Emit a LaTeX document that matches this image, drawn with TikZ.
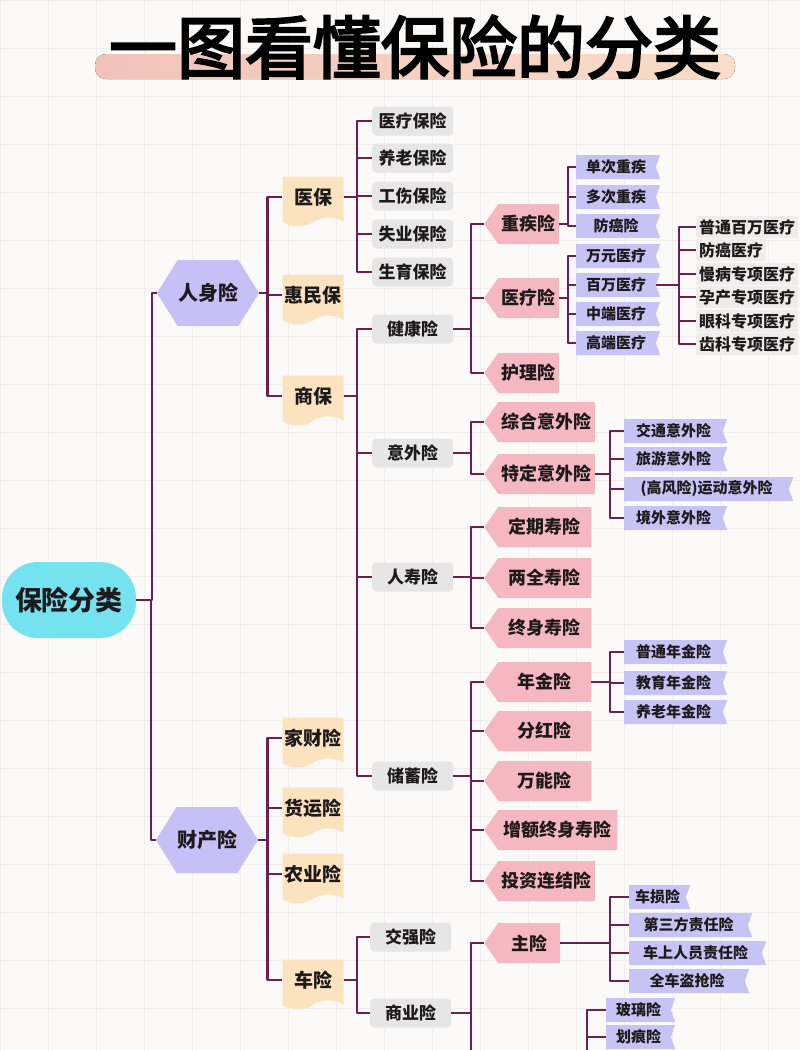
\documentclass[tikz,border=0pt]{standalone}
\usepackage{fontspec}
\setmainfont{Noto Sans CJK SC}
\newfontfamily\titulofonte{Noto Sans CJK SC}[FakeBold=3.5]
\usepackage{tikz}
\usetikzlibrary{shapes.symbols}

\definecolor{fundo}{HTML}{FBFAF8}
\definecolor{grade}{HTML}{F0EDEC}
\definecolor{linha}{HTML}{6B2150}
\definecolor{ciano}{HTML}{74E2EF}
\definecolor{lilas}{HTML}{C6C0F6}
\definecolor{bege}{HTML}{FBE3BF}
\definecolor{cinza}{HTML}{E7E6E6}
\definecolor{rosa}{HTML}{F6B8C0}
\definecolor{roxo}{HTML}{C8C3F5}
\definecolor{cinzaclaro}{HTML}{EEEDEC}
\definecolor{texto}{HTML}{1E1A1C}
\definecolor{faixaA}{HTML}{F2C2BA}
\definecolor{faixaB}{HTML}{F9DDC8}

\newcommand{\tam}[1]{\fontsize{#1}{#1}\selectfont}
% liga o pai a cada filho passando por uma barra vertical
\newcommand{\conecta}[3]{%
  \foreach \f in {#3}
    \draw[liga] (#1.east) -| ([xshift=-#2pt]\f.west) -- (\f.west);}

\begin{document}
\begin{tikzpicture}[
        x=1pt, y=-1pt,
        every node/.style={text=texto},
        liga/.style={draw=linha, line width=2.5pt, line join=round},
        raiz/.style={rectangle, rounded corners=36pt, fill=ciano, minimum width=134pt, minimum height=76pt, font=\tam{27}\bfseries},
        ramo/.style={signal, signal to=west and east, signal pointer angle=116, fill=lilas, minimum width=102pt, minimum height=66pt, inner sep=0pt, font=\tam{20}\bfseries},
        fita/.style={tape, tape bend top=none, tape bend bottom=in and out, tape bend height=9pt, fill=bege, minimum width=61pt, minimum height=50pt, inner sep=0pt, font=\tam{19}\bfseries},
        caixa/.style={rectangle, rounded corners=4pt, fill=cinza, minimum width=81pt, minimum height=29pt, anchor=west, font=\tam{17}\bfseries},
        seta/.style={signal, signal to=west, signal from=nowhere, signal pointer angle=110, fill=rosa, minimum width=67pt, minimum height=40pt, anchor=west, font=\tam{18}\bfseries},
        bandeira/.style={signal, signal to=nowhere, signal from=east, signal pointer angle=140, fill=roxo, minimum width=84pt, minimum height=24pt, anchor=west, font=\tam{15}\bfseries},
        folha/.style={rectangle, rounded corners=2pt, fill=cinzaclaro, minimum height=20pt, inner xsep=3pt, anchor=west, font=\tam{16}\bfseries}
    ]

        \useasboundingbox (0,0) rectangle (800,1050);
        \clip (0,0) rectangle (800,1050);
        \fill[fundo] (0,0) rectangle (800,1050);
        \draw[grade, line width=0.6pt, step=48pt] (0,0) grid (800,1050);

        % ==================================================
        % TÍTULO
        % ==================================================

        \fill[left color=faixaA, right color=faixaB, rounded corners=11pt] (95,54) rectangle (735,79);
        \node[font=\titulofonte\tam{68}, text=black] (titulo) at (415,47) {一图看懂保险的分类};

        % ==================================================
        % NÓS
        % ==================================================

        \node[raiz] (raiz) at (69,600) {保险分类};

        % Nível 1
        \node[ramo] (rs) at (208,293) {人身险};
        \node[ramo] (cc) at (207,840) {财产险};

        % Nível 2
        \node[fita] (yb)  at (313,197) {医保};
        \node[fita] (hmb) at (313,295) {惠民保};
        \node[fita] (sb)  at (313,396) {商保};
        \node[fita] (jc)  at (313,738) {家财险};
        \node[fita] (hy)  at (313,808) {货运险};
        \node[fita] (ny)  at (313,874) {农业险};
        \node[fita] (cx)  at (313,980) {车险};

        % Nível 3
        \node[caixa] (ylbx) at (372,121) {医疗保险};
        \node[caixa] (ylao) at (372,158) {养老保险};
        \node[caixa] (gs)   at (372,196) {工伤保险};
        \node[caixa] (sy)   at (372,234) {失业保险};
        \node[caixa] (syu)  at (372,272) {生育保险};
        \node[caixa] (jk)   at (372,329) {健康险};
        \node[caixa] (yw)   at (372,453) {意外险};
        \node[caixa] (rsx)  at (372,577) {人寿险};
        \node[caixa] (cxu)  at (372,776) {储蓄险};
        \node[caixa] (jq)   at (370,937) {交强险};
        \node[caixa] (syx)  at (370,1013) {商业险};

        % Nível 4
        \node[seta] (zj) at (484,224) {重疾险};
        \node[seta] (yl) at (484,298) {医疗险};
        \node[seta] (hl) at (484,373) {护理险};
        \node[seta, minimum width=107pt] (zh) at (484,422) {综合意外险};
        \node[seta, minimum width=107pt] (td) at (484,474) {特定意外险};
        \node[seta, minimum width=107pt] (dq) at (484,527) {定期寿险};
        \node[seta, minimum width=107pt] (lq) at (484,578) {两全寿险};
        \node[seta, minimum width=107pt] (zs) at (484,628) {终身寿险};
        \node[seta, minimum width=107pt] (nj) at (484,682) {年金险};
        \node[seta, minimum width=107pt] (fh) at (484,731) {分红险};
        \node[seta, minimum width=107pt] (wn) at (484,781) {万能险};
        \node[seta, minimum width=133pt] (ze) at (484,830) {增额终身寿险};
        \node[seta, minimum width=107pt] (tz) at (484,881) {投资连结险};
        \node[seta, minimum width=76pt]  (zx) at (484,943) {主险};

        % Nível 5
        \node[bandeira] (dc)  at (576,167) {单次重疾};
        \node[bandeira] (dcz) at (576,197) {多次重疾};
        \node[bandeira] (fa)  at (576,226) {防癌险};
        \node[bandeira] (wy)  at (576,256) {万元医疗};
        \node[bandeira] (bw)  at (576,285) {百万医疗};
        \node[bandeira] (zd)  at (576,314) {中端医疗};
        \node[bandeira] (gd)  at (576,343) {高端医疗};
        \node[bandeira, minimum width=103pt] (jt) at (624,431) {交通意外险};
        \node[bandeira, minimum width=103pt] (ly) at (624,459) {旅游意外险};
        \node[bandeira, minimum width=169pt] (gf) at (624,489) {(高风险)运动意外险};
        \node[bandeira, minimum width=103pt] (jw) at (624,518) {境外意外险};
        \node[bandeira, minimum width=103pt] (pn) at (624,652) {普通年金险};
        \node[bandeira, minimum width=103pt] (jy) at (624,683) {教育年金险};
        \node[bandeira, minimum width=103pt] (yn) at (624,712) {养老年金险};
        \node[bandeira, minimum width=61pt]  (cs) at (629,897) {车损险};
        \node[bandeira, minimum width=123pt] (ds) at (629,925) {第三方责任险};
        \node[bandeira, minimum width=137pt] (cr) at (629,953) {车上人员责任险};
        \node[bandeira, minimum width=120pt] (qc) at (629,981) {全车盗抢险};
        \node[bandeira, minimum width=69pt]  (bl) at (606,1010) {玻璃险};
        \node[bandeira, minimum width=69pt]  (hh) at (606,1037) {划痕险};

        % Nível 6
        \node[folha] (pt) at (696,227) {普通百万医疗};
        \node[folha] (fy) at (696,250) {防癌医疗};
        \node[folha] (mb) at (696,274) {慢病专项医疗};
        \node[folha] (yc) at (696,297) {孕产专项医疗};
        \node[folha] (yk) at (696,321) {眼科专项医疗};
        \node[folha] (ck) at (696,344) {齿科专项医疗};

        % pontos fora da imagem
        \coordinate (fj)  at (484,1080);
        \coordinate (fjx) at (555,1075);

        % ==================================================
        % LIGAÇÕES
        % ==================================================

        \conecta{raiz}{5}{rs,cc}
        \conecta{rs}{15}{yb,hmb,sb}
        \conecta{cc}{15}{jc,hy,ny,cx}
        \conecta{yb}{15}{ylbx,ylao,gs,sy,syu}
        \conecta{sb}{15}{jk,yw,rsx,cxu}
        \conecta{cx}{13}{jq,syx}
        \conecta{jk}{13}{zj,yl,hl}
        \conecta{yw}{13}{zh,td}
        \conecta{rsx}{13}{dq,lq,zs}
        \conecta{cxu}{13}{nj,fh,wn,ze,tz}
        \conecta{syx}{13}{zx}
        \conecta{zj}{8}{dc,dcz,fa}
        \conecta{yl}{8}{wy,bw,zd,gd}
        \conecta{bw}{17}{pt,fy,mb,yc,yk,ck}
        \conecta{td}{14}{jt,ly,gf,jw}
        \conecta{nj}{14}{pn,jy,yn}
        \conecta{zx}{19}{cs,ds,cr,qc}
        \draw[liga] (syx.east) -| ([xshift=-13pt]fj) -- (fj);
        \draw[liga] (fjx) -| ([xshift=-19pt]bl.west) -- (bl.west);
        \draw[liga] (fjx) -| ([xshift=-19pt]hh.west) -- (hh.west);
    \end{tikzpicture}
\end{document}
